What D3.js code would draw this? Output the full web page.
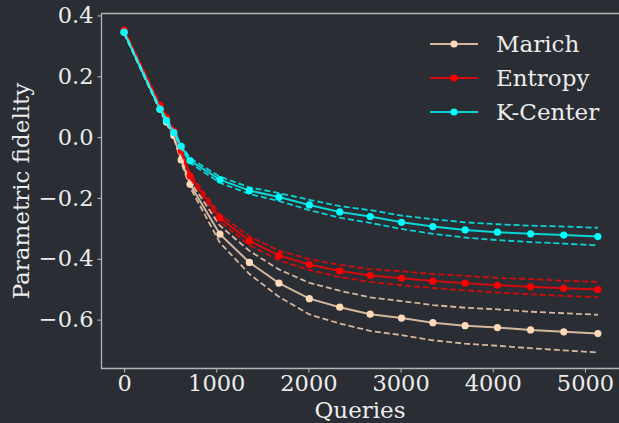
<!DOCTYPE html>
<html><head><meta charset="utf-8">
<script src="https://cdn.jsdelivr.net/npm/d3@7"></script>
<style>html,body{margin:0;padding:0;background:#2a2d34;}svg{display:block;}</style>
</head><body>
<script>
const queries = [0, 390, 460, 540, 620, 716, 1040, 1360, 1680, 2010, 2340, 2670, 3010, 3350, 3700, 4050, 4410, 4770, 5140];
const marichMean = [0.345, 0.092, 0.05, 0.005, -0.075, -0.155, -0.319, -0.412, -0.480, -0.531, -0.559, -0.582, -0.595, -0.610, -0.620, -0.626, -0.634, -0.640, -0.646];
const marichSpread = [0.004, 0.005, 0.006, 0.007, 0.008, 0.01, 0.028, 0.038, 0.045, 0.052, 0.054, 0.055, 0.056, 0.058, 0.059, 0.06, 0.06, 0.061, 0.062];
const entropyMean = [0.352, 0.105, 0.065, 0.02, -0.045, -0.127, -0.266, -0.341, -0.389, -0.419, -0.44, -0.455, -0.464, -0.473, -0.480, -0.487, -0.492, -0.497, -0.501];
const entropySpread = [0.004, 0.005, 0.005, 0.006, 0.007, 0.008, 0.012, 0.014, 0.016, 0.018, 0.02, 0.021, 0.023, 0.023, 0.024, 0.024, 0.025, 0.025, 0.025];
const kcenterMean = [0.345, 0.092, 0.055, 0.015, -0.03, -0.077, -0.140, -0.176, -0.197, -0.223, -0.246, -0.261, -0.280, -0.294, -0.305, -0.3125, -0.318, -0.322, -0.327];
const kcenterSpread = [0.003, 0.004, 0.005, 0.005, 0.006, 0.008, 0.01, 0.011, 0.013, 0.017, 0.019, 0.021, 0.022, 0.024, 0.025, 0.026, 0.027, 0.028, 0.029];
const seriesNames = ["Marich", "Entropy", "K-Center"];
const seriesColors = ["#ffdab9", "#ff0000", "#00ffff"];
const xTicks = [0, 1000, 2000, 3000, 4000, 5000];
const yTicks = [0.4, 0.2, 0.0, -0.2, -0.4, -0.6];

const W = 619, H = 423;
const bg = "#2a2d34", fg = "#ececec", spineCol = "#b4b4b4";
const font = "'DejaVu Serif', serif";

const svg = d3.select("body").append("svg").attr("width", W).attr("height", H);
svg.append("rect").attr("width", W).attr("height", H).attr("fill", bg);

const x = d3.scaleLinear().domain([-250, 5380]).range([101, 620]);
const y = d3.scaleLinear().domain([-0.76, 0.408]).range([368.3, 13]);

svg.append("line").attr("x1", 101).attr("x2", W).attr("y1", 13.5).attr("y2", 13.5).attr("stroke", spineCol).attr("stroke-width", 1.3);

const xAxis = svg.append("g").attr("transform", "translate(0,368.5)")
  .call(d3.axisBottom(x).tickValues(xTicks).tickFormat(d3.format("d")).tickSizeOuter(0).tickSize(4).tickPadding(3));
const yAxis = svg.append("g").attr("transform", "translate(101.5,0)")
  .call(d3.axisLeft(y).tickValues(yTicks).tickFormat(d => (d < 0 ? "\u2212" : "") + Math.abs(d).toFixed(1)).tickSizeOuter(0).tickSize(4).tickPadding(4));
[xAxis, yAxis].forEach(g => {
  g.select(".domain").attr("stroke", spineCol).attr("stroke-width", 1.3);
  g.selectAll(".tick line").attr("stroke", spineCol).attr("stroke-width", 1.1);
  g.selectAll(".tick text").attr("fill", fg).attr("font-family", font).attr("font-size", 22.5);
});
xAxis.select(".domain").attr("d", `M101,0H${W}`);
yAxis.select(".domain").attr("d", "M0,13H0V368.3");

svg.append("text").attr("x", 360).attr("y", 418).attr("text-anchor", "middle")
  .attr("fill", fg).attr("font-family", font).attr("font-size", 23).text("Queries");
svg.append("text").attr("transform", "translate(28.5,191) rotate(-90)").attr("text-anchor", "middle")
  .attr("fill", fg).attr("font-family", font).attr("font-size", 23).text("Parametric fidelity");

const means = [marichMean, entropyMean, kcenterMean];
const spreads = [marichSpread, entropySpread, kcenterSpread];
const line = d3.line().x(d => x(d[0])).y(d => y(d[1]));

means.forEach((m, i) => {
  const col = seriesColors[i];
  const g = svg.append("g");
  const up = queries.map((q, j) => [q, m[j] + spreads[i][j]]);
  const lo = queries.map((q, j) => [q, m[j] - spreads[i][j]]);
  [up, lo].forEach(b => g.append("path").attr("d", line(b)).attr("fill", "none")
    .attr("stroke", col).attr("stroke-opacity", 0.8).attr("stroke-width", 1.8).attr("stroke-dasharray", "6,3"));
  const pts = queries.map((q, j) => [q, m[j]]);
  g.append("path").attr("d", line(pts)).attr("fill", "none").attr("stroke", col)
    .attr("stroke-opacity", 0.8).attr("stroke-width", 2);
  g.selectAll("circle").data(pts).enter().append("circle")
    .attr("cx", d => x(d[0])).attr("cy", d => y(d[1])).attr("r", 3.6).attr("fill", col);
});

const leg = svg.append("g");
seriesNames.forEach((n, i) => {
  const yy = 44 + i * 34;
  leg.append("line").attr("x1", 430).attr("x2", 478).attr("y1", yy).attr("y2", yy)
    .attr("stroke", seriesColors[i]).attr("stroke-opacity", 0.8).attr("stroke-width", 2);
  leg.append("circle").attr("cx", 454).attr("cy", yy).attr("r", 3.6).attr("fill", seriesColors[i]);
  leg.append("text").attr("x", 496).attr("y", yy + 8).attr("fill", fg)
    .attr("font-family", font).attr("font-size", 23).text(n);
});
</script>
</body></html>
